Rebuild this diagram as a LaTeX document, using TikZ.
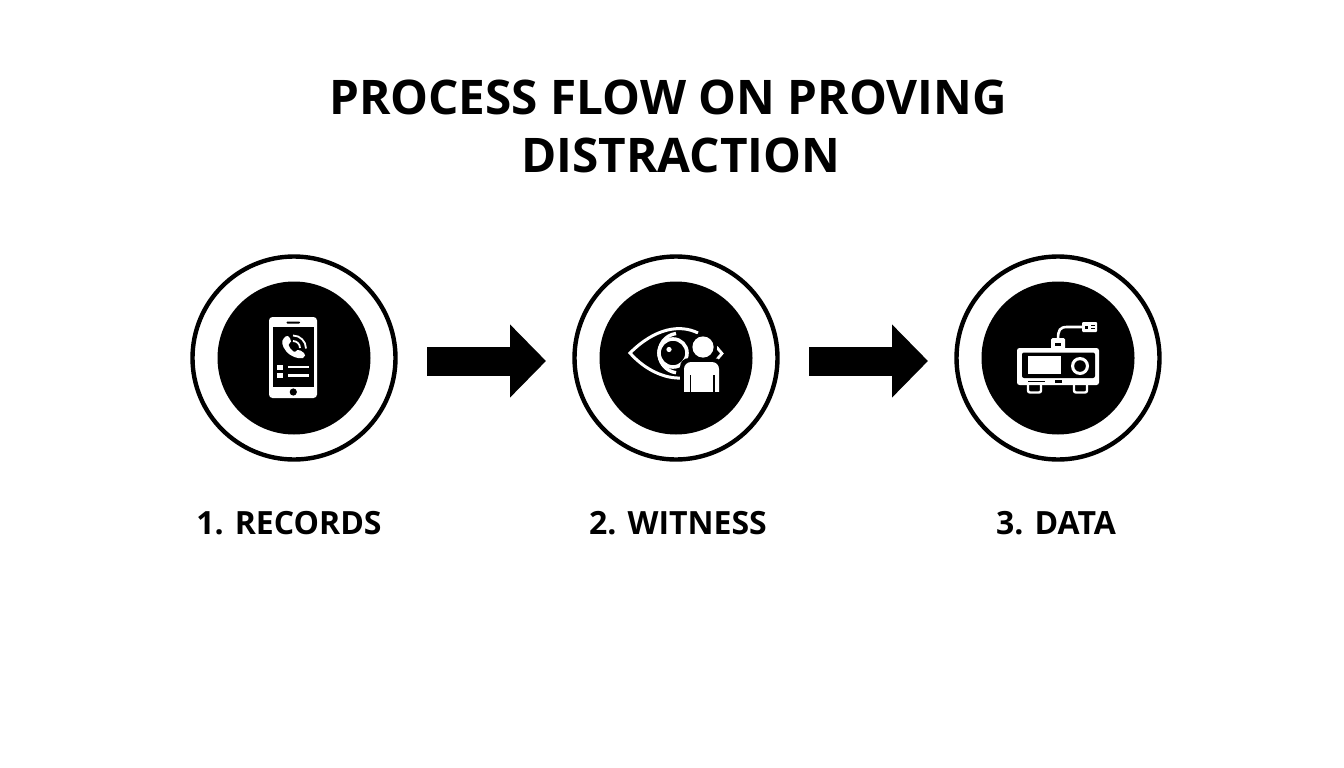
\documentclass[tikz,border=0pt]{standalone}
\usepackage{fontspec}
\setmainfont{Open Sans}
\usetikzlibrary{arrows.meta}
\tikzset{
  ring/.style={circle,draw=black,line width=4.4pt,fill=white,minimum size=203pt,inner sep=0pt},
  disc/.style={circle,fill=black,minimum size=153pt,inner sep=0pt},
  flow/.style={line width=29pt,draw=black,-{Triangle[length=36pt,width=71pt]},shorten <=133pt,shorten >=130pt},
  ttl/.style={font=\fontsize{47.7}{50}\selectfont\bfseries,text=black,inner sep=0pt},
  lbl/.style={font=\fontsize{32}{34}\selectfont\bfseries,text=black,inner sep=0pt},
  wf/.style={fill=white,draw=none},
  bf/.style={fill=black,draw=none},
  wl/.style={draw=white,fill=none},
}
\begin{document}
\begin{tikzpicture}[x=1pt,y=-1pt]
\useasboundingbox (0,0) rectangle (1344,768);
\fill[white] (0,0) rectangle (1344,768);
\node[ttl] (t1) at (668,97) {PROCESS FLOW ON PROVING};
\node[ttl] (t2) at (681,155) {DISTRACTION};
\node[ring] (r1) at (294,358) {};
\node[ring] (r2) at (676,358) {};
\node[ring] (r3) at (1058,358) {};
\node[disc] (d1) at (294,358) {};
\node[disc] (d2) at (676,358) {};
\node[disc] (d3) at (1058,358) {};
\draw[flow] ([yshift=-3pt]r1.center) -- ([yshift=-3pt]r2.center);
\draw[flow] ([yshift=-3pt]r2.center) -- ([yshift=-3pt]r3.center);
\node[lbl] (l1) at (289,523) {1. RECORDS};
\node[lbl] (l2) at (678,523) {2. WITNESS};
\node[lbl] (l3) at (1056,523) {3. DATA};
% phone
\fill[wf,rounded corners=3.5pt] (269,317) rectangle (317,398);
\fill[bf] (272.5,327) rectangle (314,387);
\fill[bf,rounded corners=0.8pt] (286.5,321.5) rectangle (300,323.5);
\fill[bf] (293.3,392) circle (3.6);
\fill[wf] (277,365) rectangle (283,370);
\fill[wf] (277,373) rectangle (283,378);
\fill[wf] (288,365.5) rectangle (309,368.3);
\fill[wf] (288,374.2) rectangle (309,377);
\fill[wf] (284,338) .. controls (281,341) and (282,346) .. (286,351)
  .. controls (291,357) and (298,359) .. (303,358)
  .. controls (305.5,357) and (305.5,354) .. (304,353)
  .. controls (302,351) and (299,349.5) .. (297.5,350)
  .. controls (296,351) and (295,352.5) .. (293.5,351.5)
  .. controls (291,350) and (289,347) .. (288.5,345)
  .. controls (288.5,343.5) and (290.5,343) .. (291,341.5)
  .. controls (291,339.5) and (289.5,337) .. (288,336)
  .. controls (286.5,335.5) and (285,336.8) .. (284,338) -- cycle;
\draw[white,line width=1.8pt] (293,341) arc (-90:0:7);
\draw[white,line width=1.8pt] (293,335.5) arc (-90:0:13);
% eye
\draw[wl,line width=3pt] (698,333) .. controls (680,324) and (655,328) .. (630,353)
   .. controls (645,370) and (665,379) .. (682,378);
\draw[wl,line width=3.4pt] (676,333.5) arc (-98:-262:19.8);
\draw[wl,line width=3.6pt] (673,353) circle (14);
\fill[wf] (669,349.5) circle (2.6);
\draw[wl,line width=2.8pt,line join=miter] (716.5,347) -- (722,353.5) -- (716.5,360);
\fill[bf] (703,347) circle (14);
\fill[bf,rounded corners=9pt] (680,358) rectangle (723,396);
\fill[wf] (703,347) circle (10.6);
\fill[wf,rounded corners=7pt] (684,362) -- (719,362) -- (719,400) -- (684,400) -- cycle;
\fill[bf] (680,392) rectangle (723,402);
\fill[bf] (689.5,375) rectangle (690.8,392);
\fill[bf] (713.2,375) rectangle (714.5,392);
% projector
\draw[white,line width=2.6pt] (1058,339) .. controls (1058,330) and (1060,327) .. (1067,327) -- (1083,327);
\fill[wf,rounded corners=1pt] (1082,322) rectangle (1097,332);
\fill[bf] (1091,325) rectangle (1095,326.2);
\fill[bf] (1091,328) rectangle (1095,329.2);
\fill[bf] (1085,325.5) rectangle (1087.5,328.5);
\fill[wf,rounded corners=1.5pt] (1051,338) rectangle (1065,350);
\fill[bf] (1055,343) rectangle (1061,346);
\fill[wf,rounded corners=2.5pt] (1017,348) rectangle (1099,385);
\fill[bf,rounded corners=2pt] (1022,352.5) rectangle (1095,378);
\fill[wf] (1028,356) rectangle (1061,374);
\fill[wf] (1080,366) circle (9);
\fill[bf] (1080,366) circle (5.8);
\fill[bf] (1028,380.5) rectangle (1045,382);
\fill[bf] (1055,380) rectangle (1062,382.5);
\draw[wl,line width=2.4pt,rounded corners=2pt] (1028,385) -- (1028,392.5) -- (1041,392.5) -- (1041,385);
\draw[wl,line width=2.4pt,rounded corners=2pt] (1074,385) -- (1074,392.5) -- (1087,392.5) -- (1087,385);
\end{tikzpicture}
\end{document}
